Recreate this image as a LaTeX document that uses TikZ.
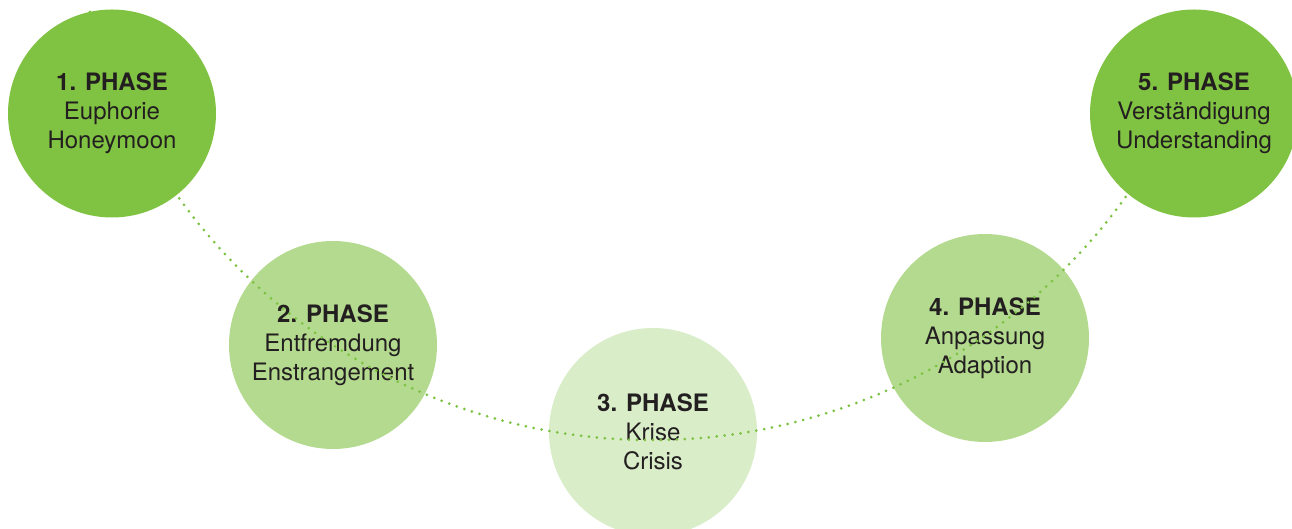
\documentclass[tikz,border=0pt]{standalone}
\usepackage{fontspec}
\setmainfont{TeX Gyre Heros}
\definecolor{greenD}{HTML}{80C342}
\definecolor{greenM}{HTML}{B3DA8E}
\definecolor{greenL}{HTML}{D9EDC8}
\definecolor{dotgreen}{HTML}{7CC242}
\definecolor{inkgray}{HTML}{231F20}
\tikzset{
  phase/.style = {circle, minimum size=208pt, inner sep=0pt, align=center,
    text=inkgray, font=\fontsize{24}{29}\selectfont},
  phase_d/.style = {phase, fill=greenD},% dunkel
  phase_m/.style = {phase, fill=greenM},% mittel
  phase_l/.style = {phase, fill=greenL},% hell
  trail/.style = {dotgreen, line width=3pt, line cap=round,
    dash pattern=on 0pt off 8pt}
}
\begin{document}
\begin{tikzpicture}[x=1pt, y=1pt]
  \useasboundingbox (0,0) rectangle (1292,529);
  % mittlere Phasen unter der Kurve
  \node [phase_m] (p2) at (333,184) {\textbf{2. PHASE}\\Entfremdung\\Enstrangement};
  \node [phase_l] (p3) at (653,97) {\textbf{3. PHASE}\\Krise\\Crisis};
  \node [phase_m] (p4) at (985,191) {\textbf{4. PHASE}\\Anpassung\\Adaption};
  % Bogen
  \coordinate (ctr) at (652,672);
  \coordinate (trail_start) at ([shift={(195.4:583)}]ctr);
  \draw [trail] (trail_start) arc [start angle=195.4, end angle=344.6, radius=583];
  % aeussere Phasen ueber der Kurve
  \node [phase_d] (p1) at (112,415.5) {\textbf{1. PHASE}\\Euphorie\\Honeymoon};
  \node [phase_d] (p5) at (1194,415.5) {\textbf{5. PHASE}\\Verständigung\\Understanding};
\end{tikzpicture}
\end{document}
